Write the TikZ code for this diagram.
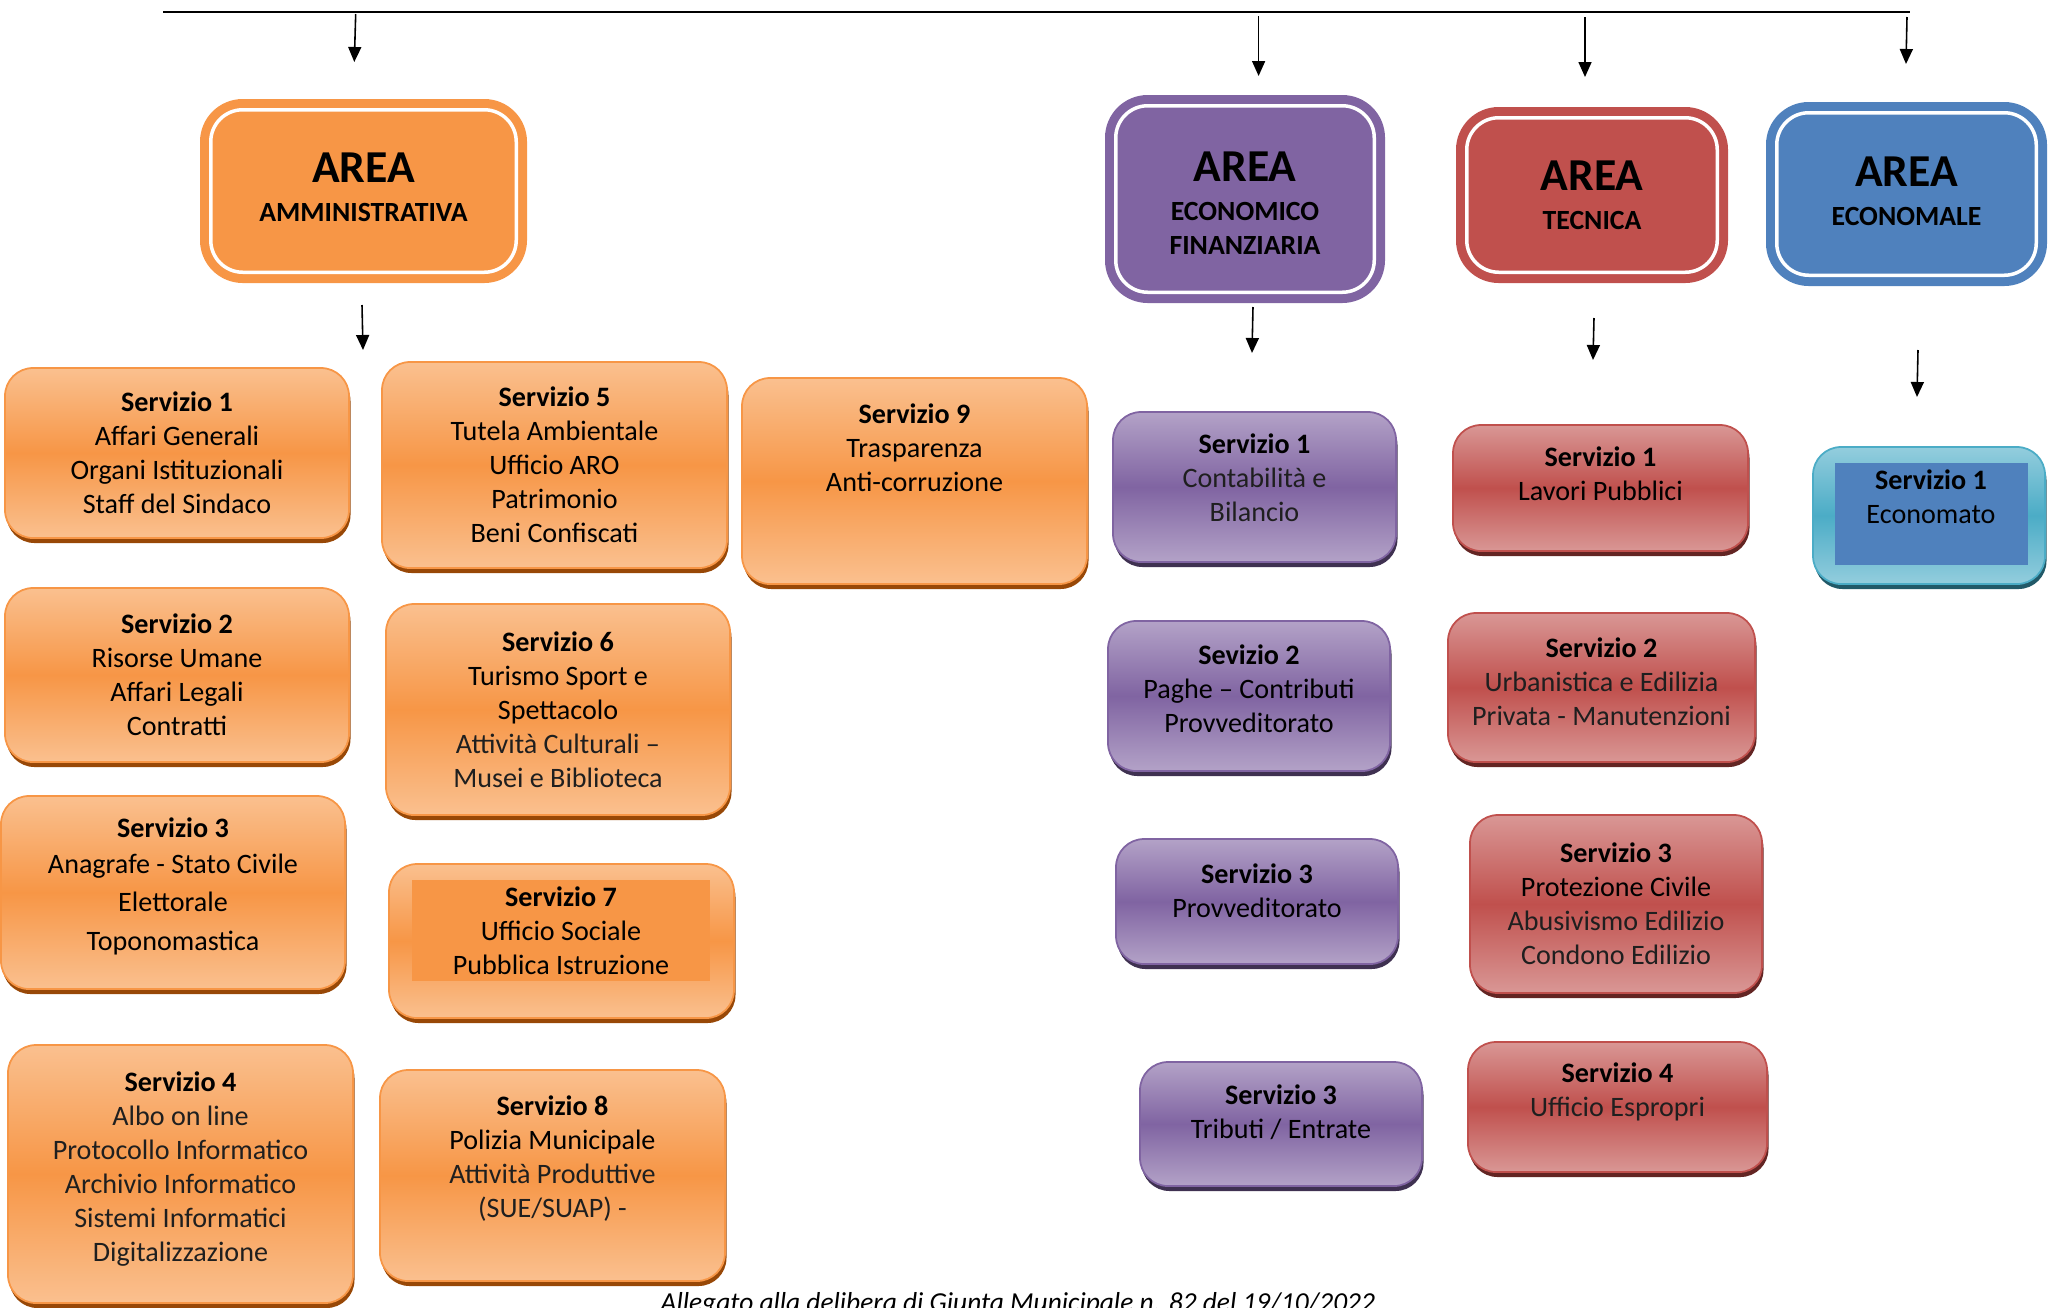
\documentclass[tikz,border=0pt]{standalone}
\usepackage{fontspec}
\setmainfont{Carlito}
\usetikzlibrary{arrows.meta,shadows,positioning}

\definecolor{amm}{HTML}{F79646}
\definecolor{ammlight}{HTML}{FAC08F}
\definecolor{ammdark}{HTML}{984807}
\definecolor{fin}{HTML}{8064A2}
\definecolor{finlight}{HTML}{B3A2C7}
\definecolor{findark}{HTML}{3F3151}
\definecolor{tec}{HTML}{C0504D}
\definecolor{teclight}{HTML}{D99795}
\definecolor{tecdark}{HTML}{632523}
\definecolor{eco}{HTML}{4F81BD}
\definecolor{ecs}{HTML}{4BACC6}
\definecolor{ecslight}{HTML}{93CDDD}
\definecolor{ecsdark}{HTML}{215968}
\definecolor{txtgray}{gray}{0.12}

\newcommand{\softln}[1]{\textcolor{txtgray}{#1}}

\tikzset{
  bus/.style={line width=0.6pt},
  arr/.style={line width=0.45pt,-{Triangle[length=1.5mm,width=1.3mm]}},
  areabox/.style={draw=#1,fill=#1,double=white,double distance=0.035cm,line width=0.09cm,
    rounded corners=0.32cm,inner sep=0pt,outer sep=0pt},
  areatext/.style={align=center,inner sep=0pt,font=\fontsize{7.9}{9.7}\selectfont\bfseries},
  servbox/.style={draw=#1,line width=0.5pt,rounded corners=0.28cm,inner sep=0pt,outer sep=0pt,
    top color=#1light,bottom color=#1light,middle color=#1,
    drop shadow={shadow xshift=0.015cm,shadow yshift=-0.05cm,fill=#1dark,opacity=1}},
  servtext/.style={align=center,inner sep=0pt,font=\fontsize{8}{9.7}\selectfont},
  flatbox/.style={fill=#1,inner sep=0pt,outer sep=0pt},
}

\begin{document}
\begin{tikzpicture}
  \useasboundingbox (0,0) rectangle (20.49,-13.07);
  \clip (0,0) rectangle (20.49,-13.07);

  \coordinate (busL) at (1.63,-0.12);
  \coordinate (busR) at (19.10,-0.12);
  \draw[bus] (busL) -- (busR);
  \foreach \n/\xa/\ya/\xb/\yb in {topA/3.557/-0.14/3.543/-0.62, topF/12.586/-0.16/12.586/-0.76,
    topT/15.85/-0.17/15.85/-0.77, topE/19.07/-0.17/19.06/-0.64,
    subA/3.62/-3.05/3.63/-3.50, subF/12.53/-3.07/12.52/-3.53,
    subT/15.94/-3.18/15.93/-3.60, subE/19.18/-3.50/19.17/-3.97}
  {\coordinate (\n s) at (\xa,\ya);
   \coordinate (\n e) at (\xb,\yb);
   \draw[arr] (\n s) -- (\n e);}

  \node[areabox=amm,minimum width=3.055cm,minimum height=1.625cm] (arA) at (3.635,-1.91) {};
  \node[areabox=fin,minimum width=2.585cm,minimum height=1.865cm] (arF) at (12.45,-1.99) {};
  \node[areabox=tec,minimum width=2.505cm,minimum height=1.545cm] (arT) at (15.92,-1.95) {};
  \node[areabox=eco,minimum width=2.595cm,minimum height=1.625cm] (arE) at (19.065,-1.94) {};
  \node[areatext] (arAt) at ([yshift=0.035cm]arA.center) {{\fontsize{13}{13}\selectfont AREA}\\[1.3pt]AMMINISTRATIVA};
  \node[areatext] (arFt) at ([yshift=-0.04cm]arF.center) {{\fontsize{13}{13}\selectfont AREA}\\[1.3pt]ECONOMICO\\FINANZIARIA};
  \node[areatext] (arTt) at (arT.center) {{\fontsize{13}{13}\selectfont AREA}\\[1.3pt]TECNICA};
  \node[areatext] (arEt) at ([yshift=0.03cm]arE.center) {{\fontsize{13}{13}\selectfont AREA}\\[1.3pt]ECONOMALE};

  \node[servbox=amm,minimum width=3.44cm,minimum height=1.70cm] (a1) at (1.77,-4.53) {};
  \node[servbox=amm,minimum width=3.44cm,minimum height=1.74cm] (a2) at (1.77,-6.75) {};
  \node[servbox=amm,minimum width=3.44cm,minimum height=1.93cm] (a3) at (1.73,-8.925) {};
  \node[servbox=amm,minimum width=3.45cm,minimum height=2.58cm] (a4) at (1.805,-11.74) {};
  \node[servbox=amm,minimum width=3.45cm,minimum height=2.06cm] (a5) at (5.545,-4.65) {};
  \node[servbox=amm,minimum width=3.44cm,minimum height=2.11cm] (a6) at (5.58,-7.095) {};
  \node[servbox=amm,minimum width=3.45cm,minimum height=1.54cm] (a7) at (5.615,-9.41) {};
  \node[flatbox=amm,minimum width=2.98cm,minimum height=1.01cm] (a7in) at (5.61,-9.305) {};
  \node[servbox=amm,minimum width=3.45cm,minimum height=2.11cm] (a8) at (5.525,-11.755) {};
  \node[servbox=amm,minimum width=3.45cm,minimum height=2.06cm] (a9) at (9.145,-4.81) {};

  \node[servbox=fin,minimum width=2.83cm,minimum height=1.50cm] (f1) at (12.545,-4.87) {};
  \node[servbox=fin,minimum width=2.82cm,minimum height=1.50cm] (f2) at (12.49,-6.96) {};
  \node[servbox=fin,minimum width=2.82cm,minimum height=1.25cm] (f3) at (12.57,-9.015) {};
  \node[servbox=fin,minimum width=2.82cm,minimum height=1.24cm] (f4) at (12.81,-11.24) {};

  \node[servbox=tec,minimum width=2.95cm,minimum height=1.26cm] (t1) at (16.005,-4.88) {};
  \node[servbox=tec,minimum width=3.07cm,minimum height=1.49cm] (t2) at (16.015,-6.875) {};
  \node[servbox=tec,minimum width=2.92cm,minimum height=1.78cm] (t3) at (16.16,-9.04) {};
  \node[servbox=tec,minimum width=2.99cm,minimum height=1.30cm] (t4) at (16.175,-11.07) {};

  \node[servbox=ecs,minimum width=2.32cm,minimum height=1.37cm] (e1) at (19.29,-5.155) {};
  \node[flatbox=eco,minimum width=1.93cm,minimum height=1.02cm] (e1in) at (19.315,-5.14) {};

  \node[servtext] (a1t) at (a1.center) {\textbf{Servizio 1}\\Affari Generali\\Organi Istituzionali\\Staff del Sindaco};
  \node[servtext] (a2t) at (a2.center) {\textbf{Servizio 2}\\Risorse Umane\\Affari Legali\\Contratti};
  \node[servtext] (a3t) at ([yshift=0.06cm]a3.center) {\textbf{Servizio 3}\\[0.5pt]Anagrafe - Stato Civile\\[1pt]Elettorale\\[1.5pt]Toponomastica};
  \node[servtext] (a4t) at ([yshift=0.05cm]a4.center) {\textbf{Servizio 4}\\\softln{Albo on line}\\\softln{Protocollo Informatico}\\\softln{Archivio Informatico}\\\softln{Sistemi Informatici}\\\softln{Digitalizzazione}};
  \node[servtext] (a5t) at (a5.center) {\textbf{Servizio 5}\\Tutela Ambientale\\Ufficio ARO\\Patrimonio\\Beni Confiscati};
  \node[servtext] (a6t) at (a6.center) {\textbf{Servizio 6}\\Turismo Sport e\\Spettacolo\\\softln{Attività Culturali –}\\\softln{Musei e Biblioteca}};
  \node[servtext] (a7t) at (a7in.center) {\textbf{Servizio 7}\\Ufficio Sociale\\Pubblica Istruzione};
  \node[servtext] (a8t) at ([yshift=0.17cm]a8.center) {\textbf{Servizio 8}\\Polizia Municipale\\\softln{Attività Produttive}\\\softln{(SUE/SUAP) -}};
  \node[servtext] (a9t) at ([yshift=0.33cm]a9.center) {\textbf{Servizio 9}\\Trasparenza\\Anti-corruzione};

  \node[servtext] (f1t) at ([yshift=0.09cm]f1.center) {\textbf{Servizio 1}\\\softln{Contabilità e}\\\softln{Bilancio}};
  \node[servtext] (f2t) at ([yshift=0.07cm]f2.center) {\textbf{Sevizio 2}\\Paghe – Contributi\\Provveditorato};
  \node[servtext] (f3t) at ([yshift=0.11cm]f3.center) {\textbf{Servizio 3}\\Provveditorato};
  \node[servtext] (f4t) at ([yshift=0.12cm]f4.center) {\textbf{Servizio 3}\\Tributi / Entrate};

  \node[servtext] (t1t) at ([yshift=0.14cm]t1.center) {\textbf{Servizio 1}\\Lavori Pubblici};
  \node[servtext] (t2t) at ([yshift=0.06cm]t2.center) {\textbf{Servizio 2}\\\softln{Urbanistica e Edilizia}\\\softln{Privata - Manutenzioni}};
  \node[servtext] (t3t) at (t3.center) {\textbf{Servizio 3}\\Protezione Civile\\\softln{Abusivismo Edilizio}\\\softln{Condono Edilizio}};
  \node[servtext] (t4t) at ([yshift=0.15cm]t4.center) {\textbf{Servizio 4}\\\softln{Ufficio Espropri}};

  \node[servtext] (e1t) at (19.31,-4.97) {\textbf{Servizio 1}\\Economato};

  \node[inner sep=0pt,anchor=base west,font=\fontsize{7.8}{9}\selectfont\itshape] (nota) at (6.60,-13.115) {Allegato alla delibera di Giunta Municipale n. 82 del 19/10/2022};
\end{tikzpicture}
\end{document}
